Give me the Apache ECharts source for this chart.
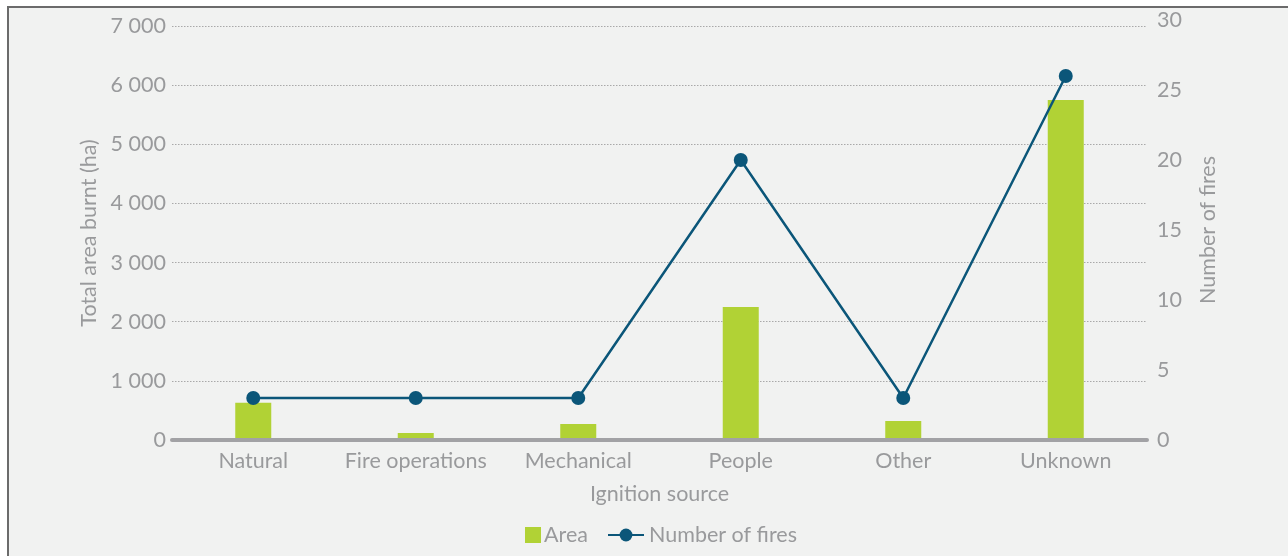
<!DOCTYPE html>
<html>
<head>
<meta charset="utf-8">
<script src="https://cdn.jsdelivr.net/npm/echarts@6/dist/echarts.min.js"></script>
<style>
html,body{margin:0;padding:0;background:#ffffff;width:1288px;height:556px;overflow:hidden;}
#panel{position:absolute;left:7px;top:6px;width:1300px;height:570px;background:#f1f2f1;border-left:2px solid #6b6b6b;border-top:2px solid #6b6b6b;}
#chart{position:absolute;left:0;top:0;width:1288px;height:556px;}
</style>
</head>
<body>
<div id="panel"></div>
<div id="chart"></div>
<script>
const categories = ['Natural', 'Fire operations', 'Mechanical', 'People', 'Other', 'Unknown'];
const areaValues = [630, 120, 270, 2250, 320, 5750];
const fireCounts = [3, 3, 3, 20, 3, 26];
const seriesNames = ['Area', 'Number of fires'];
const leftAxisName = 'Total area burnt (ha)';
const rightAxisName = 'Number of fires';
const xAxisName = 'Ignition source';

const FONT = 'Lato, "Open Sans", sans-serif';
const GRAY = '#999a9c';
const FS = 21.5;

function fmt(v){
  return String(v).replace(/\B(?=(\d{3})+(?!\d))/g, ' ');
}

const chart = echarts.init(document.getElementById('chart'), null, {renderer:'canvas'});
chart.setOption({
  backgroundColor: 'transparent',
  animation: false,
  textStyle: {fontFamily: FONT},
  legend: [
    {
      left: 520, bottom: 5,
      itemWidth: 16, itemHeight: 16, itemGap: 4,
      textStyle: {color: GRAY, fontSize: FS, fontFamily: FONT, padding: [0,0,0,-2]},
      data: [{name: seriesNames[0], icon: 'rect'}]
    },
    {
      left: 602, bottom: 5,
      itemWidth: 36, itemHeight: 16,
      textStyle: {color: GRAY, fontSize: FS, fontFamily: FONT},
      data: [{name: seriesNames[1]}]
    }
  ],
  grid: [
    {left: 172, right: 141, top: 26, bottom: 116},
    {left: 172, right: 141, top: 20, bottom: 116}
  ],
  xAxis: [
    {
      type: 'category', gridIndex: 0, data: categories,
      name: xAxisName, nameLocation: 'middle', nameGap: 43,
      nameTextStyle: {color: GRAY, fontSize: FS, fontFamily: FONT},
      axisLine: {show: true, lineStyle: {color: '#a2a2a5', width: 4}},
      axisTick: {show: false},
      axisLabel: {color: GRAY, fontSize: FS, margin: 10, fontFamily: FONT, interval: 0},
      z: 5
    },
    {
      type: 'category', gridIndex: 1, data: categories, show: false
    }
  ],
  yAxis: [
    {
      type: 'value', gridIndex: 0, min: 0, max: 7000, interval: 1000,
      name: leftAxisName, nameLocation: 'middle', nameGap: 72, nameRotate: 90,
      nameTextStyle: {color: GRAY, fontSize: FS, fontFamily: FONT},
      axisLine: {show: false}, axisTick: {show: false},
      axisLabel: {color: GRAY, fontSize: FS, margin: 6, fontFamily: FONT, formatter: fmt},
      splitLine: {show: true, lineStyle: {color: '#a9a9a9', type: [1.5, 1.5], width: 1}}
    },
    {
      type: 'value', gridIndex: 1, position: 'right', min: 0, max: 30, interval: 5,
      name: rightAxisName, nameLocation: 'middle', nameGap: 50, nameRotate: 90,
      nameTextStyle: {color: GRAY, fontSize: FS, fontFamily: FONT},
      axisLine: {show: false}, axisTick: {show: false},
      axisLabel: {color: GRAY, fontSize: FS, margin: 10, fontFamily: FONT},
      splitLine: {show: false}
    }
  ],
  series: [
    {
      name: seriesNames[0], type: 'bar', xAxisIndex: 0, yAxisIndex: 0,
      data: areaValues, barWidth: 36,
      itemStyle: {color: '#b1d235'}
    },
    {
      name: seriesNames[1], type: 'line', xAxisIndex: 1, yAxisIndex: 1,
      data: fireCounts, symbol: 'circle', symbolSize: 14,
      lineStyle: {color: '#0b5679', width: 2.5},
      itemStyle: {color: '#0b5679'},
      z: 10
    }
  ]
});
</script>
</body>
</html>
